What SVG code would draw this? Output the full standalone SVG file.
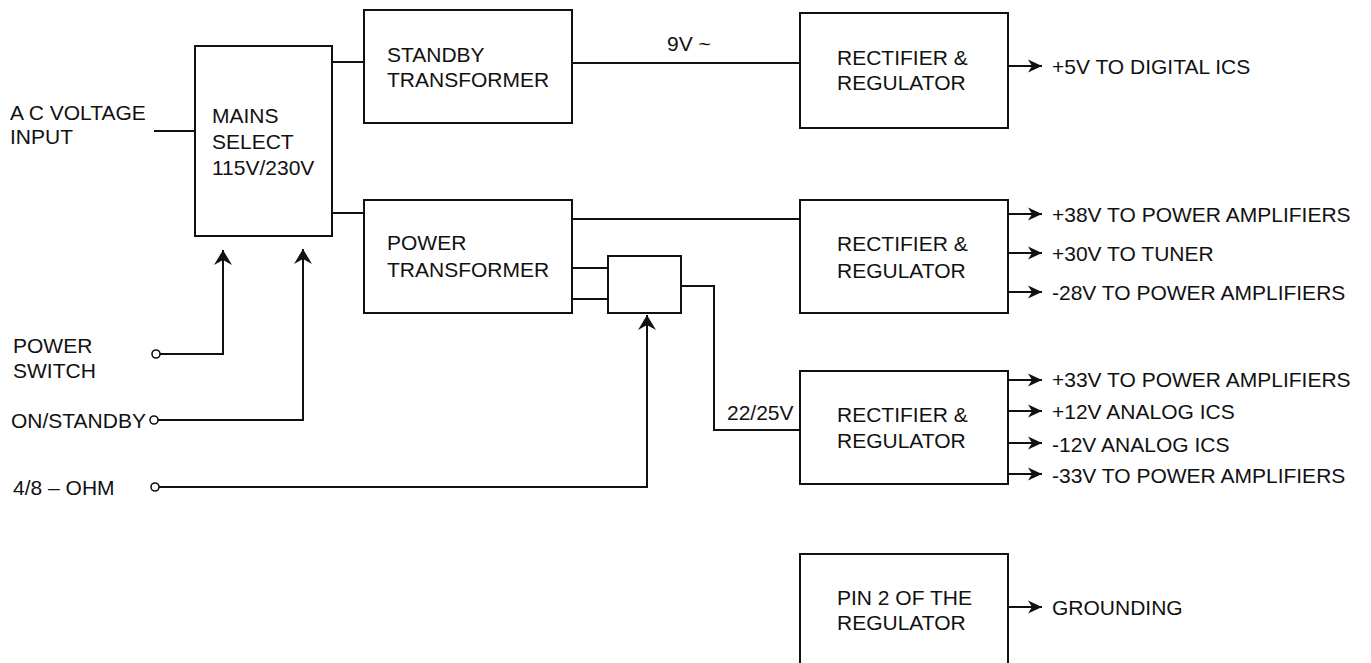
<svg xmlns="http://www.w3.org/2000/svg" width="1371" height="663" viewBox="0 0 1371 663">
<style>
text{font-family:"Liberation Sans",Arial,sans-serif;font-size:21px;fill:#111}
.box{fill:#fff;stroke:#111;stroke-width:2}
.ln{fill:none;stroke:#111;stroke-width:2}
.term{fill:#fff;stroke:#111;stroke-width:1.6}
</style>
<defs>
<marker id="big" markerUnits="userSpaceOnUse" viewBox="0 -10 16 20" refX="15" refY="0" markerWidth="16" markerHeight="20" orient="auto">
<path d="M15,0 L0,-9 L5,0 L0,9 Z" fill="#111"/>
</marker>
<marker id="small" markerUnits="userSpaceOnUse" viewBox="0 -8 15 16" refX="14" refY="0" markerWidth="15" markerHeight="16" orient="auto">
<path d="M14,0 L0,-6.5 L4,0 L0,6.5 Z" fill="#111"/>
</marker>
</defs>
<rect width="1371" height="663" fill="#fff"/>

<g id="connectors">
<path class="ln" d="M154,131 H195"/>
<path class="ln" d="M332,62 H364"/>
<path class="ln" d="M332,213 H364"/>
<path class="ln" d="M572,63 H800"/>
<path class="ln" d="M572,219 H800"/>
<path class="ln" d="M572,268 H608"/>
<path class="ln" d="M572,299 H608"/>
<path class="ln" d="M681,286 H714 V430 H800"/>
<path class="ln" d="M160,354 H223 V250" marker-end="url(#big)"/>
<path class="ln" d="M158,420 H303 V249" marker-end="url(#big)"/>
<path class="ln" d="M159,487 H647 V315" marker-end="url(#big)"/>
<path class="ln" d="M1008,66 H1042" marker-end="url(#small)"/>
<path class="ln" d="M1008,214 H1042" marker-end="url(#small)"/>
<path class="ln" d="M1008,253 H1042" marker-end="url(#small)"/>
<path class="ln" d="M1008,292 H1042" marker-end="url(#small)"/>
<path class="ln" d="M1008,380 H1042" marker-end="url(#small)"/>
<path class="ln" d="M1008,411 H1042" marker-end="url(#small)"/>
<path class="ln" d="M1008,443 H1042" marker-end="url(#small)"/>
<path class="ln" d="M1008,474 H1042" marker-end="url(#small)"/>
<path class="ln" d="M1008,607 H1042" marker-end="url(#small)"/>
<circle class="term" cx="156" cy="354" r="4"/>
<circle class="term" cx="154" cy="420" r="4"/>
<circle class="term" cx="155" cy="487" r="4"/>
<text x="667" y="51">9V ~</text>
<text x="727" y="420">22/25V</text>
</g>

<g id="ac-input"><text x="10" y="120">A C VOLTAGE</text><text x="10" y="144">INPUT</text></g>
<g id="power-switch"><text x="13" y="353">POWER</text><text x="13" y="378">SWITCH</text></g>
<g id="on-standby"><text x="11" y="428">ON/STANDBY</text></g>
<g id="ohm"><text x="13" y="495">4/8 – OHM</text></g>

<g id="mains-select">
<rect class="box" x="195" y="46" width="137" height="190"/>
<text x="212" y="123">MAINS</text><text x="212" y="149">SELECT</text><text x="212" y="175">115V/230V</text>
</g>
<g id="standby-transformer">
<rect class="box" x="364" y="10" width="208" height="113"/>
<text x="387" y="62">STANDBY</text><text x="387" y="87">TRANSFORMER</text>
</g>
<g id="power-transformer">
<rect class="box" x="364" y="200" width="208" height="113"/>
<text x="387" y="250">POWER</text><text x="387" y="277">TRANSFORMER</text>
</g>
<g id="switch-box">
<rect class="box" x="608" y="256" width="73" height="57"/>
</g>
<g id="rectifier-1">
<rect class="box" x="800" y="13" width="208" height="115"/>
<text x="837" y="65">RECTIFIER &amp;</text><text x="837" y="90">REGULATOR</text>
</g>
<g id="rectifier-2">
<rect class="box" x="800" y="200" width="208" height="113"/>
<text x="837" y="251">RECTIFIER &amp;</text><text x="837" y="278">REGULATOR</text>
</g>
<g id="rectifier-3">
<rect class="box" x="800" y="371" width="208" height="113"/>
<text x="837" y="422">RECTIFIER &amp;</text><text x="837" y="448">REGULATOR</text>
</g>
<g id="pin2">
<rect class="box" x="800" y="554" width="208" height="120"/>
<text x="837" y="605">PIN 2 OF THE</text><text x="837" y="630">REGULATOR</text>
</g>

<g id="outputs">
<text x="1052" y="74">+5V TO DIGITAL ICS</text>
<text x="1052" y="222">+38V TO POWER AMPLIFIERS</text>
<text x="1052" y="261">+30V TO TUNER</text>
<text x="1052" y="300">-28V TO POWER AMPLIFIERS</text>
<text x="1052" y="387">+33V TO POWER AMPLIFIERS</text>
<text x="1052" y="419">+12V ANALOG ICS</text>
<text x="1052" y="452">-12V ANALOG ICS</text>
<text x="1052" y="483">-33V TO POWER AMPLIFIERS</text>
<text x="1052" y="615">GROUNDING</text>
</g>
</svg>
